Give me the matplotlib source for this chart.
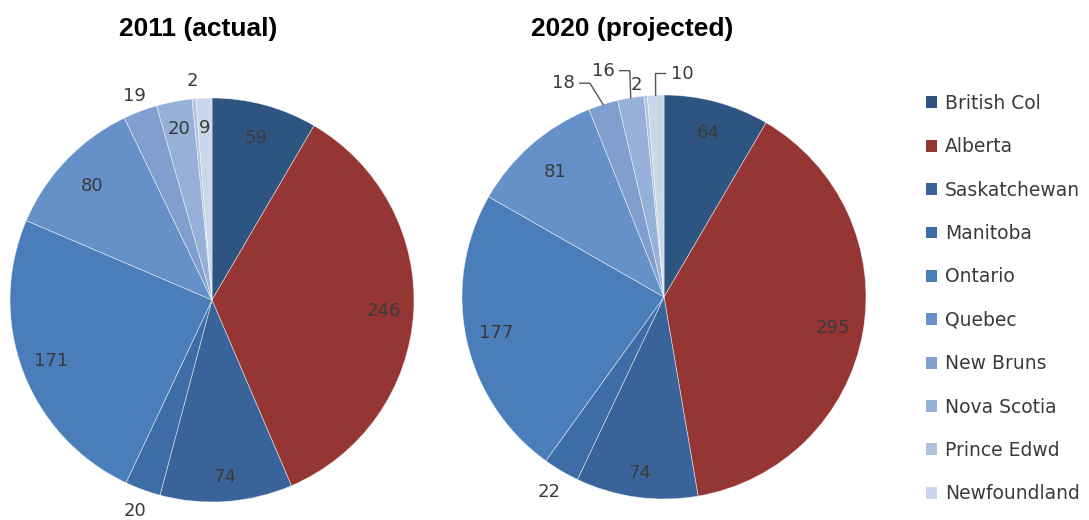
import numpy as np
import matplotlib
matplotlib.use('Agg')
import matplotlib.pyplot as plt
from matplotlib.patches import Patch

# provinces and values (thousands)
provinces = ['British Col', 'Alberta', 'Saskatchewan', 'Manitoba', 'Ontario',
             'Quebec', 'New Bruns', 'Nova Scotia', 'Prince Edwd', 'Newfoundland']
values_2011 = [59, 246, 74, 20, 171, 80, 19, 20, 2, 9]
values_2020 = [64, 295, 74, 22, 177, 81, 18, 16, 2, 10]

colors = ['#2E5581', '#963634', '#3A6499', '#3D6CA6', '#4A7EBB',
          '#6590C8', '#809FCE', '#96B1D7', '#AFC2E0', '#CAD6EA']

TXT = '#3a3a3a'
FS = 13


def mid_angles(vals):
    # angle in degrees clockwise from the top for the middle of each slice
    c = np.cumsum(vals) / float(sum(vals)) * 360.0
    start = np.concatenate([[0], c[:-1]])
    return (start + c) / 2.0


def xy(ang, r):
    a = np.deg2rad(ang)
    return r * np.sin(a), r * np.cos(a)


def draw_pie(ax, vals, label_r, leaders=None, moved=None):
    ax.pie(vals, colors=colors, startangle=90, counterclock=False, radius=1.0,
           wedgeprops=dict(edgecolor=(1, 1, 1, 0.6), linewidth=0.5))
    mids = mid_angles(vals)
    leaders = leaders or {}
    moved = moved or {}
    for i, v in enumerate(vals):
        if i in leaders:
            # label moved away with an elbow leader line
            tang, tr, side = leaders[i]
            tx, ty = xy(tang, tr)
            ex, ey = xy(mids[i], 1.0)
            ax.text(tx, ty, str(v), ha='center', va='center', fontsize=FS,
                    color=TXT, clip_on=False)
            w = 0.033 * len(str(v)) + 0.015
            hx = tx + side * w
            ax.plot([hx, hx + side * 0.05, ex], [ty, ty, ey], color='#555555',
                    lw=1.0, clip_on=False)
        elif i in moved:
            tang, tr = moved[i]
            x, y = xy(tang, tr)
            ax.text(x, y, str(v), ha='center', va='center', fontsize=FS,
                    color=TXT, clip_on=False)
        else:
            x, y = xy(mids[i], label_r[i])
            ax.text(x, y, str(v), ha='center', va='center', fontsize=FS,
                    color=TXT, clip_on=False)
    ax.set_xlim(-1, 1)
    ax.set_ylim(-1, 1)
    ax.set_aspect('equal')
    ax.axis('off')


fig = plt.figure(figsize=(10.89, 5.2), dpi=100)

R = 202.0
ax1 = fig.add_axes([(212 - R) / 1089, (520 - 300 - R) / 520, 2 * R / 1089, 2 * R / 520])
ax2 = fig.add_axes([(664 - R) / 1089, (520 - 297 - R) / 520, 2 * R / 1089, 2 * R / 520])

r2011 = [0.83, 0.85, 0.88, 1.11, 0.85, 0.82, 1.08, 0.86, 1.09, 0.85]
draw_pie(ax1, values_2011, r2011)

r2020 = [0.84, 0.85, 0.88, 1.12, 0.85, 0.82, 1.1, 1.1, 1.1, 1.1]
lead2020 = {6: (334.8, 1.17, 1), 7: (345.0, 1.16, 1), 9: (4.6, 1.11, -1)}
moved2020 = {8: (352.6, 1.06)}
draw_pie(ax2, values_2020, r2020, leaders=lead2020, moved=moved2020)

fig.text(198 / 1089, 1 - 29 / 520, '2011 (actual)', ha='center', va='center',
         fontsize=19, fontweight='bold', family='Liberation Sans')
fig.text(632 / 1089, 1 - 29 / 520, '2020 (projected)', ha='center', va='center',
         fontsize=19, fontweight='bold', family='Liberation Sans')

handles = [Patch(facecolor=c, edgecolor='none') for c in colors]
leg = fig.legend(handles, provinces, loc='upper left',
                 bbox_to_anchor=(926 / 1089, 1 - 94 / 520), frameon=False,
                 fontsize=13.5, labelspacing=1.30, handlelength=0.6, handleheight=0.6,
                 handletextpad=0.4, borderaxespad=0, borderpad=0)
for t in leg.get_texts():
    t.set_color(TXT)

fig.savefig('out.png', dpi=100)
